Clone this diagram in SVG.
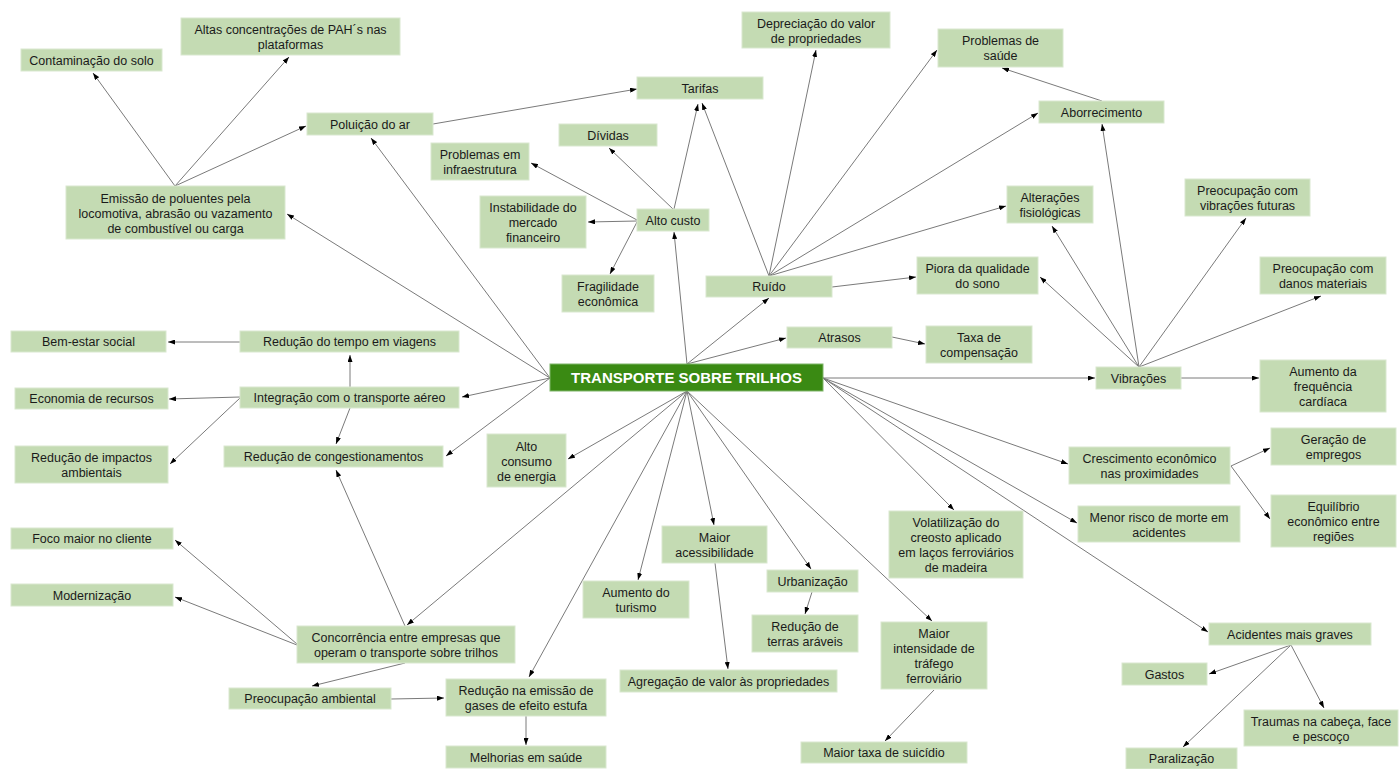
<svg xmlns="http://www.w3.org/2000/svg" width="1400" height="769" viewBox="0 0 1400 769">
<defs>
<marker id="ah" viewBox="0 0 7 5" refX="7" refY="2.5" markerWidth="7" markerHeight="5" orient="auto" markerUnits="userSpaceOnUse"><path d="M0,0 L7,2.5 L0,5 z" fill="#000"/></marker>
<style>
.b{fill:#c4dbb3;stroke:#d9e8cf;stroke-width:1}
.m{fill:#3a8a13;stroke:#7fb56a;stroke-width:1}
text{font-family:"Liberation Sans",Arial,sans-serif;font-size:12.5px;fill:#1a1a1a;text-anchor:middle}
.t{font-size:15px;font-weight:bold;fill:#fff}
#edges line{stroke:#7a7a7a;stroke-width:1;marker-end:url(#ah)}
</style>
</defs>
<rect width="1400" height="769" fill="#fff"/>
<g id="edges">
<line x1="550" y1="378" x2="287" y2="214"/>
<line x1="550" y1="378" x2="371" y2="138"/>
<line x1="550" y1="378" x2="462" y2="397"/>
<line x1="550" y1="378" x2="446" y2="456"/>
<line x1="687" y1="391" x2="568" y2="459"/>
<line x1="687" y1="391" x2="407" y2="625"/>
<line x1="687" y1="391" x2="529" y2="677"/>
<line x1="687" y1="391" x2="638" y2="580"/>
<line x1="687" y1="391" x2="714" y2="525"/>
<line x1="687" y1="391" x2="811" y2="569"/>
<line x1="687" y1="391" x2="932" y2="621"/>
<line x1="823" y1="378" x2="954" y2="510"/>
<line x1="823" y1="378" x2="1068" y2="464"/>
<line x1="823" y1="378" x2="1077" y2="523"/>
<line x1="823" y1="378" x2="1208" y2="632"/>
<line x1="823" y1="378" x2="1095" y2="378"/>
<line x1="687" y1="364" x2="786" y2="338"/>
<line x1="687" y1="364" x2="769" y2="298"/>
<line x1="687" y1="364" x2="674" y2="232"/>
<line x1="674" y1="209" x2="698" y2="104"/>
<line x1="673" y1="209" x2="609" y2="148"/>
<line x1="637" y1="220" x2="531" y2="163"/>
<line x1="637" y1="221" x2="588" y2="222"/>
<line x1="637" y1="222" x2="610" y2="274"/>
<line x1="769" y1="276" x2="702" y2="103"/>
<line x1="769" y1="276" x2="816" y2="50"/>
<line x1="769" y1="276" x2="937" y2="50"/>
<line x1="769" y1="276" x2="1038" y2="113"/>
<line x1="769" y1="276" x2="1006" y2="206"/>
<line x1="832" y1="287" x2="916" y2="277"/>
<line x1="1102" y1="101" x2="1002" y2="68"/>
<line x1="1139" y1="367" x2="1102" y2="124"/>
<line x1="1139" y1="367" x2="1052" y2="226"/>
<line x1="1139" y1="367" x2="1040" y2="277"/>
<line x1="1139" y1="367" x2="1246" y2="218"/>
<line x1="1139" y1="367" x2="1321" y2="296"/>
<line x1="1181" y1="378" x2="1259" y2="378"/>
<line x1="892" y1="337" x2="925" y2="344"/>
<line x1="1231" y1="466" x2="1270" y2="448"/>
<line x1="1231" y1="466" x2="1270" y2="519"/>
<line x1="1291" y1="645" x2="1209" y2="674"/>
<line x1="1291" y1="645" x2="1324" y2="708"/>
<line x1="1291" y1="645" x2="1183" y2="747"/>
<line x1="934" y1="690" x2="885" y2="741"/>
<line x1="812" y1="592" x2="805" y2="614"/>
<line x1="715" y1="563" x2="728" y2="669"/>
<line x1="297" y1="644" x2="175" y2="540"/>
<line x1="297" y1="645" x2="175" y2="597"/>
<line x1="405" y1="663" x2="312" y2="686"/>
<line x1="405" y1="626" x2="336" y2="470"/>
<line x1="391" y1="699" x2="444" y2="698"/>
<line x1="526" y1="716" x2="526" y2="745"/>
<line x1="350" y1="387" x2="350" y2="355"/>
<line x1="240" y1="397" x2="169" y2="399"/>
<line x1="240" y1="398" x2="170" y2="464"/>
<line x1="350" y1="408" x2="336" y2="444"/>
<line x1="240" y1="342" x2="168" y2="342"/>
<line x1="175" y1="186" x2="93" y2="73"/>
<line x1="175" y1="186" x2="289" y2="57"/>
<line x1="175" y1="186" x2="306" y2="126"/>
<line x1="433" y1="124" x2="637" y2="89"/>
</g>
<g id="n_main"><rect class="m" x="550" y="364" width="273" height="27"/><text class="t" x="686.5" y="383">TRANSPORTE SOBRE TRILHOS</text></g>
<g id="n_contam"><rect class="b" x="21" y="49" width="141" height="22"/><text x="91.5" y="64.5">Contaminação do solo</text></g>
<g id="n_altas"><rect class="b" x="181" y="18" width="219" height="37"/><text x="290.5" y="33.5">Altas concentrações de PAH´s nas</text><text x="290.5" y="48.5">plataformas</text></g>
<g id="n_poluicao"><rect class="b" x="307" y="113" width="126" height="22"/><text x="370" y="128.5">Poluição do ar</text></g>
<g id="n_emissao"><rect class="b" x="66" y="186" width="219" height="53"/><text x="175.5" y="202.5">Emissão de poluentes pela</text><text x="175.5" y="217.5">locomotiva, abrasão ou vazamento</text><text x="175.5" y="232.5">de combustível ou carga</text></g>
<g id="n_tarifas"><rect class="b" x="637" y="77" width="126" height="22"/><text x="700" y="92.5">Tarifas</text></g>
<g id="n_deprec"><rect class="b" x="742" y="12" width="148" height="36"/><text x="816" y="27.5">Depreciação do valor</text><text x="816" y="42.5">de propriedades</text></g>
<g id="n_dividas"><rect class="b" x="559" y="124" width="98" height="22"/><text x="608" y="139.5">Dívidas</text></g>
<g id="n_infra"><rect class="b" x="431" y="143" width="98" height="37"/><text x="480" y="158.5">Problemas em</text><text x="480" y="173.5">infraestrutura</text></g>
<g id="n_instab"><rect class="b" x="480" y="196" width="106" height="52"/><text x="533" y="211.5">Instabilidade do</text><text x="533" y="226.5">mercado</text><text x="533" y="241.5">financeiro</text></g>
<g id="n_altocusto"><rect class="b" x="637" y="209" width="72" height="22"/><text x="673" y="224.5">Alto custo</text></g>
<g id="n_fragil"><rect class="b" x="562" y="275" width="92" height="37"/><text x="608" y="290.5">Fragilidade</text><text x="608" y="305.5">econômica</text></g>
<g id="n_ruido"><rect class="b" x="706" y="276" width="126" height="21"/><text x="769" y="291">Ruído</text></g>
<g id="n_saude"><rect class="b" x="938" y="29" width="125" height="38"/><text x="1000.5" y="45">Problemas de</text><text x="1000.5" y="60">saúde</text></g>
<g id="n_aborr"><rect class="b" x="1039" y="101" width="125" height="22"/><text x="1101.5" y="116.5">Aborrecimento</text></g>
<g id="n_alter"><rect class="b" x="1007" y="186" width="86" height="37"/><text x="1050" y="201.5">Alterações</text><text x="1050" y="216.5">fisiológicas</text></g>
<g id="n_previb"><rect class="b" x="1185" y="179" width="125" height="37"/><text x="1247.5" y="194.5">Preocupação com</text><text x="1247.5" y="209.5">vibrações futuras</text></g>
<g id="n_piora"><rect class="b" x="917" y="257" width="121" height="37"/><text x="977.5" y="272.5">Piora da qualidade</text><text x="977.5" y="287.5">do sono</text></g>
<g id="n_predanos"><rect class="b" x="1260" y="257" width="126" height="37"/><text x="1323" y="272.5">Preocupação com</text><text x="1323" y="287.5">danos materiais</text></g>
<g id="n_atrasos"><rect class="b" x="787" y="327" width="105" height="21"/><text x="839.5" y="342">Atrasos</text></g>
<g id="n_taxa"><rect class="b" x="926" y="326" width="106" height="37"/><text x="979" y="341.5">Taxa de</text><text x="979" y="356.5">compensação</text></g>
<g id="n_vibr"><rect class="b" x="1096" y="367" width="85" height="22"/><text x="1138.5" y="382.5">Vibrações</text></g>
<g id="n_freq"><rect class="b" x="1260" y="360" width="126" height="52"/><text x="1323" y="375.5">Aumento da</text><text x="1323" y="390.5">frequência</text><text x="1323" y="405.5">cardíaca</text></g>
<g id="n_bem"><rect class="b" x="11" y="331" width="155" height="21"/><text x="88.5" y="346">Bem-estar social</text></g>
<g id="n_tempo"><rect class="b" x="240" y="331" width="219" height="21"/><text x="349.5" y="346">Redução do tempo em viagens</text></g>
<g id="n_econ"><rect class="b" x="15" y="388" width="153" height="21"/><text x="91.5" y="403">Economia de recursos</text></g>
<g id="n_integ"><rect class="b" x="240" y="387" width="219" height="21"/><text x="349.5" y="402">Integração com o transporte aéreo</text></g>
<g id="n_impactos"><rect class="b" x="15" y="446" width="153" height="37"/><text x="91.5" y="461.5">Redução de impactos</text><text x="91.5" y="476.5">ambientais</text></g>
<g id="n_congest"><rect class="b" x="224" y="446" width="219" height="21"/><text x="333.5" y="461">Redução de congestionamentos</text></g>
<g id="n_consumo"><rect class="b" x="487" y="434" width="79" height="53"/><text x="526.5" y="450.5">Alto</text><text x="526.5" y="465.5">consumo</text><text x="526.5" y="480.5">de energia</text></g>
<g id="n_cresc"><rect class="b" x="1069" y="447" width="161" height="37"/><text x="1149.5" y="462.5">Crescimento econômico</text><text x="1149.5" y="477.5">nas proximidades</text></g>
<g id="n_empregos"><rect class="b" x="1271" y="428" width="125" height="37"/><text x="1333.5" y="443.5">Geração de</text><text x="1333.5" y="458.5">empregos</text></g>
<g id="n_equil"><rect class="b" x="1271" y="495" width="125" height="52"/><text x="1333.5" y="510.5">Equilíbrio</text><text x="1333.5" y="525.5">econômico entre</text><text x="1333.5" y="540.5">regiões</text></g>
<g id="n_menor"><rect class="b" x="1078" y="506" width="162" height="36"/><text x="1159" y="521.5">Menor risco de morte em</text><text x="1159" y="536.5">acidentes</text></g>
<g id="n_volat"><rect class="b" x="889" y="511" width="134" height="67"/><text x="956" y="526.5">Volatilização do</text><text x="956" y="541.5">creosto aplicado</text><text x="956" y="556.5">em laços ferroviários</text><text x="956" y="571.5">de madeira</text></g>
<g id="n_acid"><rect class="b" x="1209" y="623" width="162" height="22"/><text x="1290" y="638.5">Acidentes mais graves</text></g>
<g id="n_gastos"><rect class="b" x="1122" y="663" width="85" height="22"/><text x="1164.5" y="678.5">Gastos</text></g>
<g id="n_traumas"><rect class="b" x="1244" y="710" width="154" height="36"/><text x="1321" y="725.5">Traumas na cabeça, face</text><text x="1321" y="740.5">e pescoço</text></g>
<g id="n_paral"><rect class="b" x="1126" y="748" width="111" height="21"/><text x="1181.5" y="763">Paralização</text></g>
<g id="n_foco"><rect class="b" x="11" y="528" width="162" height="21"/><text x="92" y="543">Foco maior no cliente</text></g>
<g id="n_modern"><rect class="b" x="11" y="584" width="162" height="22"/><text x="92" y="599.5">Modernização</text></g>
<g id="n_concor"><rect class="b" x="297" y="626" width="218" height="37"/><text x="406" y="641.5">Concorrência entre empresas que</text><text x="406" y="656.5">operam o transporte sobre trilhos</text></g>
<g id="n_preamb"><rect class="b" x="229" y="688" width="162" height="21"/><text x="310" y="703">Preocupação ambiental</text></g>
<g id="n_emiss"><rect class="b" x="446" y="679" width="160" height="37"/><text x="526" y="694.5">Redução na emissão de</text><text x="526" y="709.5">gases de efeito estufa</text></g>
<g id="n_melhor"><rect class="b" x="446" y="746" width="160" height="22"/><text x="526" y="761.5">Melhorias em saúde</text></g>
<g id="n_acess"><rect class="b" x="662" y="526" width="105" height="37"/><text x="714.5" y="541.5">Maior</text><text x="714.5" y="556.5">acessibilidade</text></g>
<g id="n_turismo"><rect class="b" x="583" y="581" width="106" height="37"/><text x="636" y="596.5">Aumento do</text><text x="636" y="611.5">turismo</text></g>
<g id="n_urban"><rect class="b" x="767" y="570" width="91" height="22"/><text x="812.5" y="585.5">Urbanização</text></g>
<g id="n_terras"><rect class="b" x="752" y="615" width="106" height="37"/><text x="805" y="630.5">Redução de</text><text x="805" y="645.5">terras aráveis</text></g>
<g id="n_agreg"><rect class="b" x="620" y="670" width="217" height="22"/><text x="728.5" y="685.5">Agregação de valor às propriedades</text></g>
<g id="n_intens"><rect class="b" x="881" y="622" width="106" height="67"/><text x="934" y="637.5">Maior</text><text x="934" y="652.5">intensidade de</text><text x="934" y="667.5">tráfego</text><text x="934" y="682.5">ferroviário</text></g>
<g id="n_suic"><rect class="b" x="801" y="742" width="166" height="21"/><text x="884" y="757">Maior taxa de suicídio</text></g>
</svg>
